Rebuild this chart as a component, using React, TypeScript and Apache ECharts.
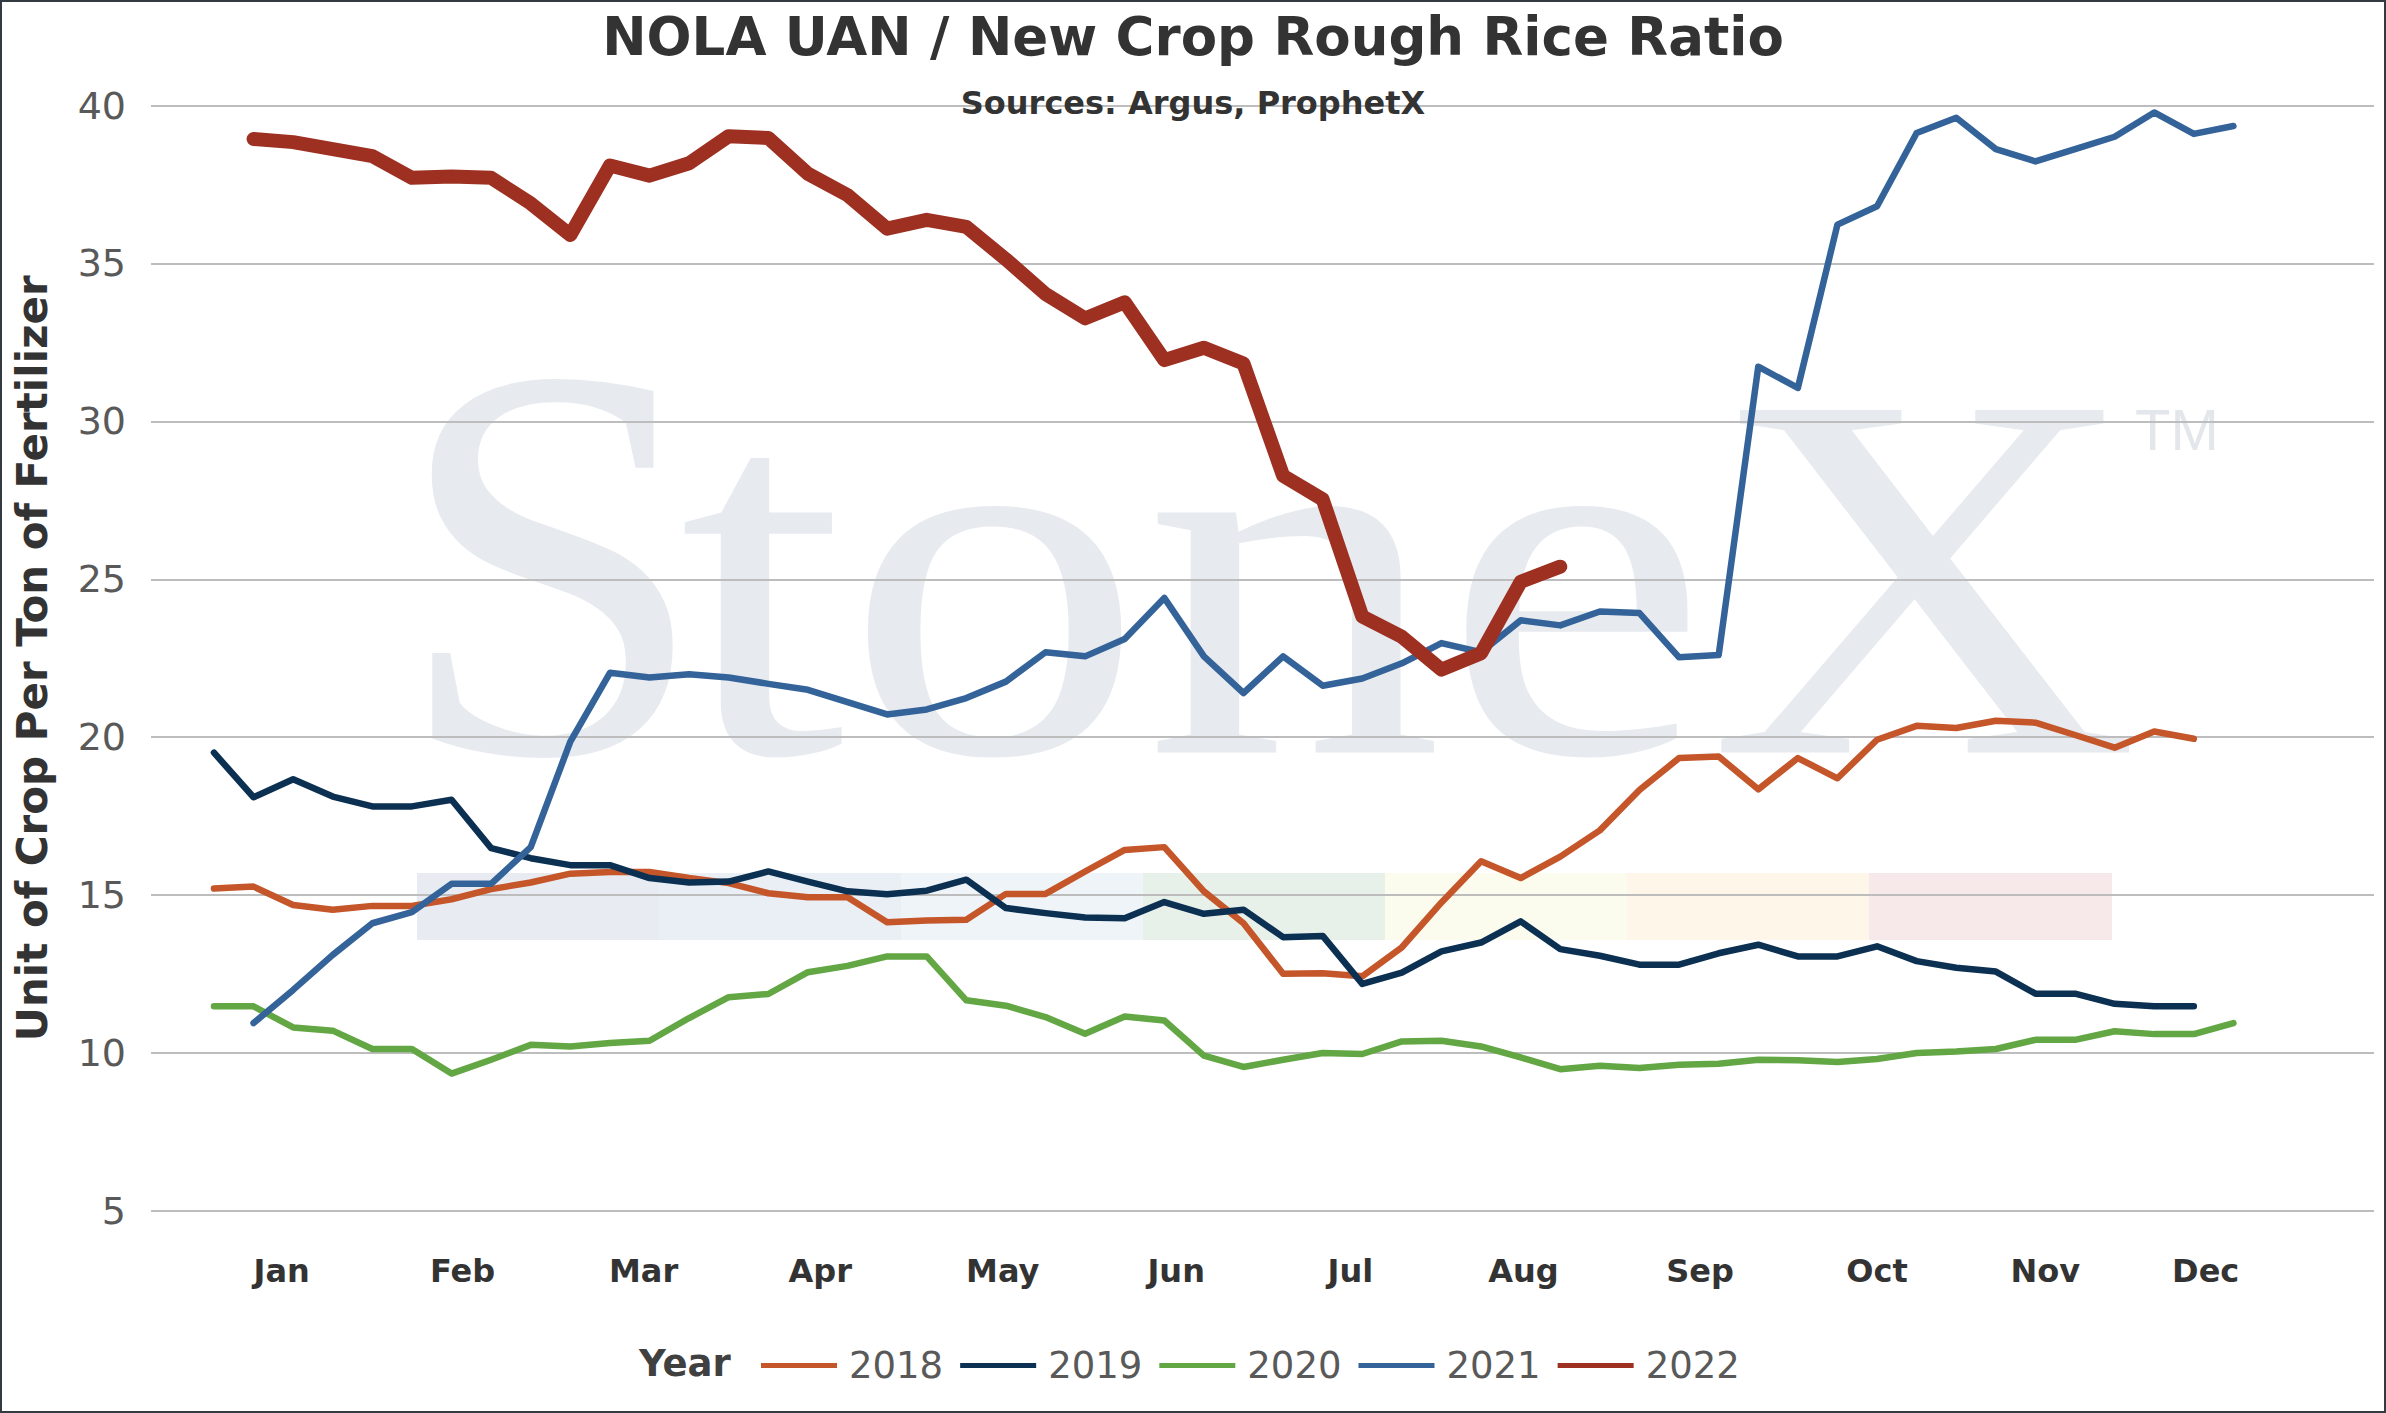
import React, { useEffect, useRef } from 'react'
import * as echarts from 'echarts'

// month labels and where they sit on the week scale
const months = ['Jan', 'Feb', 'Mar', 'Apr', 'May', 'Jun', 'Jul', 'Aug', 'Sep', 'Oct', 'Nov', 'Dec']
const monthWeeks = [1.71, 6.28, 10.85, 15.31, 19.92, 24.3, 28.7, 33.07, 37.53, 42.0, 46.25, 50.3]

const years = ['2018', '2019', '2020', '2021', '2022']
// first week index of each year's series
const startWeeks = [0, 0, 0, 1, 1]

const ratio2018 = [
  15.21, 15.27, 14.69, 14.54, 14.66, 14.66, 14.87, 15.19, 15.4, 15.68, 15.73, 15.73, 15.54,
  15.38, 15.06, 14.93, 14.93, 14.14, 14.2, 14.22, 15.04, 15.04, 15.75, 16.43, 16.52, 15.12,
  14.11, 12.51, 12.53, 12.43, 13.35, 14.77, 16.07, 15.54, 16.22, 17.05, 18.33, 19.34, 19.39,
  18.35, 19.34, 18.7, 19.92, 20.36, 20.29, 20.52, 20.46, 20.07, 19.67, 20.18, 19.95,
]
const ratio2019 = [
  19.51, 18.1, 18.67, 18.12, 17.81, 17.81, 18.02, 16.49, 16.17, 15.95, 15.95, 15.54, 15.4,
  15.43, 15.75, 15.43, 15.12, 15.03, 15.14, 15.49, 14.59, 14.43, 14.29, 14.27, 14.78, 14.41,
  14.54, 13.67, 13.71, 12.19, 12.55, 13.22, 13.5, 14.17, 13.29, 13.08, 12.8, 12.8, 13.16,
  13.43, 13.06, 13.06, 13.38, 12.91, 12.7, 12.58, 11.88, 11.88, 11.56, 11.48, 11.48,
]
const ratio2020 = [
  11.48, 11.48, 10.81, 10.71, 10.13, 10.13, 9.35, 9.79, 10.26, 10.21, 10.32, 10.39, 11.11,
  11.77, 11.87, 12.56, 12.76, 13.06, 13.06, 11.67, 11.5, 11.14, 10.61, 11.16, 11.03, 9.92,
  9.56, 9.79, 10.0, 9.97, 10.37, 10.39, 10.21, 9.86, 9.49, 9.6, 9.53, 9.63, 9.66,
  9.79, 9.77, 9.72, 9.81, 10.0, 10.05, 10.13, 10.42, 10.42, 10.69, 10.6, 10.6, 10.95,
]
const ratio2021 = [
  10.95, 12.0, 13.11, 14.11, 14.46, 15.36, 15.36, 16.52, 19.86, 22.04, 21.89, 21.99,
  21.89, 21.69, 21.5, 21.11, 20.72, 20.88, 21.24, 21.76, 22.69, 22.56, 23.11, 24.41,
  22.56, 21.4, 22.56, 21.63, 21.86, 22.34, 22.98, 22.69, 23.7, 23.54, 23.98, 23.93,
  22.53, 22.6, 31.73, 31.06, 36.23, 36.81, 39.13, 39.61, 38.62, 38.23, 38.62, 39.01,
  39.78, 39.1, 39.35,
]
const ratio2022 = [
  38.94, 38.84, 38.62, 38.4, 37.71, 37.75, 37.71, 36.9, 35.9, 38.1, 37.78, 38.17,
  39.03, 38.97, 37.84, 37.16, 36.1, 36.38, 36.16, 35.13, 34.03, 33.26, 33.77, 31.94,
  32.33, 31.83, 28.28, 27.53, 23.82, 23.18, 22.14, 22.66, 24.92, 25.4,
]
const seriesValues = [ratio2018, ratio2019, ratio2020, ratio2021, ratio2022]

const yTicks = { min: 5, max: 40, step: 5 }

const colors = ['#C4562A', '#0B3052', '#62A744', '#336399', '#9E3022']
const widths = [6.5, 6.5, 6.5, 6.5, 14]

// watermark colour bar
const stripColors = ['#E8ECF2', '#EAEFF5', '#EFF4F8', '#E8F0EA', '#FBFBEE', '#FEF6E9', '#F7E8E9']

const W = 2386
const H = 1413
const FONT = '"DejaVu Sans", Verdana, sans-serif'
const MARK = '#E7EAEF'

const App: React.FC = () => {
  const chartRef = useRef<HTMLDivElement>(null)

  useEffect(() => {
    document.body.style.margin = '0'
    if (!chartRef.current) return
    const chart = echarts.init(chartRef.current, undefined, { renderer: 'svg' })

    const series = years.map((y, s) => ({
      name: y,
      type: 'line',
      data: seriesValues[s].map((v, k) => [startWeeks[s] + k, v]),
      symbol: 'none',
      color: colors[s],
      lineStyle: { width: widths[s], color: colors[s], cap: 'round', join: 'round' },
      z: 2 + s,
    }))

    const strip = stripColors.map((c, i) => ({
      type: 'rect',
      z: -2,
      silent: true,
      shape: { x: 417 + i * 242, y: 873, width: 243, height: 67 },
      style: { fill: c },
    }))

    const option = {
      animation: false,
      backgroundColor: '#fff',
      title: [
        {
          text: 'NOLA UAN / New Crop Rough Rice Ratio',
          left: 'center',
          top: 5,
          textStyle: { fontFamily: FONT, fontSize: 53, fontWeight: 'bold', color: '#333333' },
        },
        {
          text: 'Sources: Argus, ProphetX',
          left: 'center',
          top: 82,
          textStyle: { fontFamily: FONT, fontSize: 32, fontWeight: 'bold', color: '#333333' },
        },
      ],
      grid: { left: 151, right: 12, top: 105.5, bottom: H - 1211, containLabel: false },
      legend: {
        data: years,
        left: 756,
        top: 1342,
        icon: 'rect',
        itemWidth: 76,
        itemHeight: 5,
        itemGap: 17,
        textStyle: { fontFamily: FONT, fontSize: 37, color: '#595959', padding: [0, 0, 0, 7] },
      },
      xAxis: {
        type: 'value',
        min: -1.59,
        max: 54.55,
        axisLine: { show: false },
        axisTick: { show: false },
        splitLine: { show: false },
        axisLabel: {
          customValues: monthWeeks,
          margin: 60,
          verticalAlign: 'middle',
          fontFamily: FONT,
          fontSize: 32,
          fontWeight: 'bold',
          color: '#333333',
          formatter: (v: number) => {
            const i = monthWeeks.findIndex((m) => Math.abs(m - v) < 0.01)
            return i >= 0 ? months[i] : ''
          },
        },
      },
      yAxis: {
        type: 'value',
        min: yTicks.min,
        max: yTicks.max,
        interval: yTicks.step,
        name: 'Unit of Crop Per Ton of Fertilizer',
        nameLocation: 'middle',
        nameRotate: 90,
        nameGap: 98,
        nameTextStyle: { fontFamily: FONT, fontSize: 42, fontWeight: 'bold', color: '#333333' },
        axisLine: { show: false },
        axisTick: { show: false },
        axisLabel: { margin: 25, fontFamily: FONT, fontSize: 38, color: '#595959' },
        splitLine: { lineStyle: { color: '#BDBDBD', width: 2 } },
      },
      graphic: [
        // StoneX watermark: the S is set a little larger than the rest
        {
          type: 'text',
          z: -3,
          silent: true,
          x: 394,
          y: 562,
          style: {
            text: 'S',
            font: '564px "Liberation Serif", serif',
            fill: MARK,
            textAlign: 'left',
            textVerticalAlign: 'middle',
          },
        },
        {
          type: 'text',
          z: -3,
          silent: true,
          x: 679,
          y: 576,
          scaleX: 1.143,
          style: {
            text: 'toneX',
            font: '523px "Liberation Serif", serif',
            fill: MARK,
            textAlign: 'left',
            textVerticalAlign: 'middle',
          },
        },
        {
          type: 'text',
          z: -3,
          silent: true,
          x: 2135,
          y: 429,
          style: {
            text: 'TM',
            font: '58px "Liberation Sans", sans-serif',
            fill: '#E3E7EC',
            textAlign: 'left',
            textVerticalAlign: 'middle',
          },
        },
        ...strip,
        {
          type: 'text',
          x: 639,
          y: 1363,
          style: {
            text: 'Year',
            font: 'bold 37px "DejaVu Sans", Verdana, sans-serif',
            fill: '#404040',
            textAlign: 'left',
            textVerticalAlign: 'middle',
          },
        },
        {
          type: 'rect',
          silent: true,
          z: 10,
          shape: { x: 1, y: 1, width: W - 2, height: H - 2 },
          style: { fill: 'none', stroke: '#333a42', lineWidth: 2 },
        },
      ],
      series,
    }

    chart.setOption(option as any)
    return () => chart.dispose()
  }, [])

  return <div ref={chartRef} style={{ width: W + 'px', height: H + 'px' }} />
}

export default App
